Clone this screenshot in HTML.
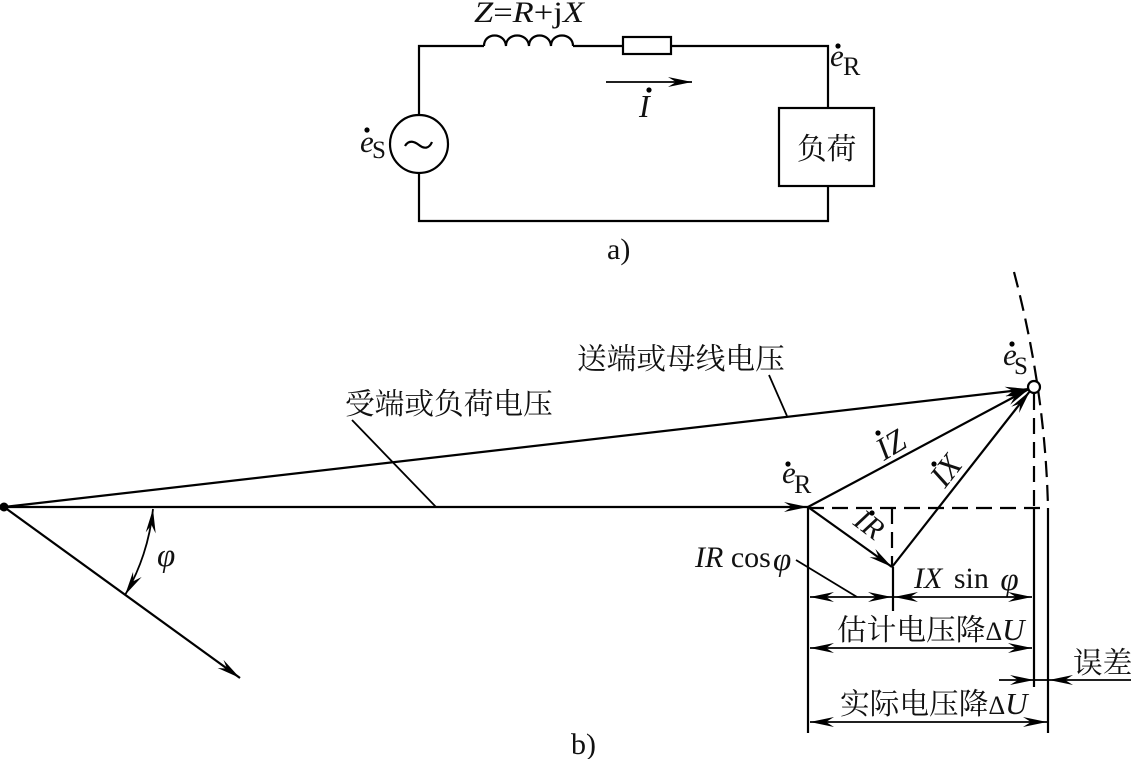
<!DOCTYPE html>
<html>
<head>
<meta charset="utf-8">
<style>
html,body{margin:0;padding:0;background:#fff;width:1131px;height:759px;overflow:hidden}
svg{display:block}
text{fill:#111;font-family:"Liberation Serif","Noto Serif CJK SC",serif}
.i{font-style:italic}
.c{font-family:"Liberation Serif","Noto Serif CJK SC",serif;font-size:29.7px}
.p{font-size:33px;font-style:italic}
.l{stroke:#000;stroke-width:2.2;fill:none}
.d{stroke:#000;stroke-width:2.2;fill:none;stroke-dasharray:16 8}
.t{stroke:#000;stroke-width:1.8;fill:none}
</style>
</head>
<body>
<svg width="1131" height="759" viewBox="0 0 1131 759" xmlns="http://www.w3.org/2000/svg">
<defs>
<marker id="a" markerUnits="userSpaceOnUse" markerWidth="24" markerHeight="12" refX="24" refY="6" orient="auto-start-reverse">
<path d="M0 1 L24 6 L0 11 L8 6 Z" fill="#000"/>
</marker>
</defs>

<!-- circuit a -->
<path class="l" d="M419 115 V46 H484 M573 46 H623 M671 46 H828 V108 M828 186 V221 H419 V173"/>
<path class="l" d="M484 46 C484 32 505 32 506 46 C506 32 528 32 529 46 C529 32 550 32 551 46 C551 32 573 32 573 46"/>
<rect class="l" x="623" y="37" width="48" height="17" fill="#fff"/>
<circle class="l" cx="419" cy="144" r="29"/>
<path class="l" d="M405 146 C409 139 415 142 419 145 C424 149 429 149 432 142"/>
<rect class="l" x="779" y="108" width="95" height="78"/>
<line class="t" x1="606" y1="82" x2="692" y2="82" marker-end="url(#a)"/>

<text x="474" y="22" font-size="30" textLength="110" lengthAdjust="spacingAndGlyphs"><tspan class="i">Z</tspan>=<tspan class="i">R</tspan>+j<tspan class="i">X</tspan></text>
<text class="i" x="830" y="66" font-size="31">e</text><circle cx="838" cy="46" r="2.6"/>
<text x="843" y="75" font-size="26">R</text>
<text class="i" x="360" y="152" font-size="31">e</text><circle cx="367" cy="130" r="2.6"/>
<text x="372" y="158" font-size="25">S</text>
<text class="i" x="639" y="117" font-size="32">I</text><circle cx="649" cy="90" r="2.6"/>
<text class="c" x="797" y="159">负荷</text>
<text x="607" y="259" font-size="30">a)</text>

<!-- phasor b -->
<circle cx="4" cy="507" r="4.5"/>
<line class="l" x1="4" y1="507" x2="808" y2="507" marker-end="url(#a)"/>
<line class="l" x1="4" y1="507" x2="1029" y2="389" marker-end="url(#a)"/>
<line class="l" x1="4" y1="507" x2="240" y2="678" marker-end="url(#a)"/>
<path class="t" d="M153 509 C150 540 140 570 125 595" marker-start="url(#a)" marker-end="url(#a)"/>
<text class="p" x="157" y="566">φ</text>

<line class="t" x1="352" y1="420" x2="436" y2="507"/>
<line class="t" x1="769" y1="375" x2="787" y2="416"/>
<text class="c" x="345" y="414">受端或负荷电压</text>
<text class="c" x="577" y="369">送端或母线电压</text>

<line class="l" x1="808" y1="507" x2="1029" y2="389" marker-end="url(#a)"/>
<line class="l" x1="808" y1="507" x2="892" y2="567" marker-end="url(#a)"/>
<line class="l" x1="892" y1="567" x2="1030" y2="391" marker-end="url(#a)"/>
<path class="d" d="M808 508 H1048"/>
<path class="d" d="M892 508 V567"/>
<path class="d" d="M1034 394 V508"/>
<path class="d" d="M1014 272 C1032 340 1046 420 1048 508"/>
<circle cx="1034" cy="387" r="6" fill="#fff" stroke="#000" stroke-width="2.2"/>

<text class="i" x="1003" y="365" font-size="31">e</text><circle cx="1012" cy="344" r="2.6"/>
<text x="1014" y="374" font-size="25">S</text>
<text class="i" x="782" y="483" font-size="31">e</text><circle cx="788" cy="464" r="2.6"/>
<text x="794" y="493" font-size="26">R</text>

<text transform="translate(884,461) rotate(-31)" font-size="32" class="i">IZ</text><circle cx="878" cy="433" r="2.6"/>
<text transform="translate(945,489) rotate(-52)" font-size="32" class="i">IX</text><circle cx="934" cy="464" r="2.6"/>
<text transform="translate(852,524) rotate(37)" font-size="30" class="i">IR</text><circle cx="872" cy="513" r="2.6"/>

<text x="695" y="567" font-size="30"><tspan class="i">IR</tspan> cos<tspan class="p" x="773" y="570">φ</tspan></text>
<text x="914" y="588" font-size="30" word-spacing="4"><tspan class="i">IX</tspan> sin <tspan class="p" y="590">φ</tspan></text>
<line class="t" x1="796" y1="560" x2="857" y2="597"/>

<!-- dimension -->
<path class="l" d="M808 507 V733 M1034 508 V687 M1048 508 V733 M893 567 V611"/>
<line class="t" x1="810" y1="597" x2="892" y2="597" marker-start="url(#a)" marker-end="url(#a)"/>
<line class="t" x1="894" y1="597" x2="1032" y2="597" marker-start="url(#a)" marker-end="url(#a)"/>
<line class="t" x1="810" y1="648" x2="1032" y2="648" marker-start="url(#a)" marker-end="url(#a)"/>
<line class="t" x1="810" y1="722" x2="1047" y2="722" marker-start="url(#a)" marker-end="url(#a)"/>
<line class="t" x1="999" y1="680" x2="1034" y2="680" marker-end="url(#a)"/>
<line class="t" x1="1034" y1="680" x2="1048" y2="680"/>
<line class="t" x1="1131" y1="680" x2="1049" y2="680" marker-end="url(#a)"/>

<text class="c" x="837" y="640">估计电压降<tspan font-size="26">Δ</tspan><tspan class="i" font-size="31">U</tspan></text>
<text class="c" x="840" y="714">实际电压降<tspan font-size="26">Δ</tspan><tspan class="i" font-size="31">U</tspan></text>
<text class="c" x="1073" y="673">误差</text>
<text x="571" y="754" font-size="30">b)</text>
</svg>
</body>
</html>
